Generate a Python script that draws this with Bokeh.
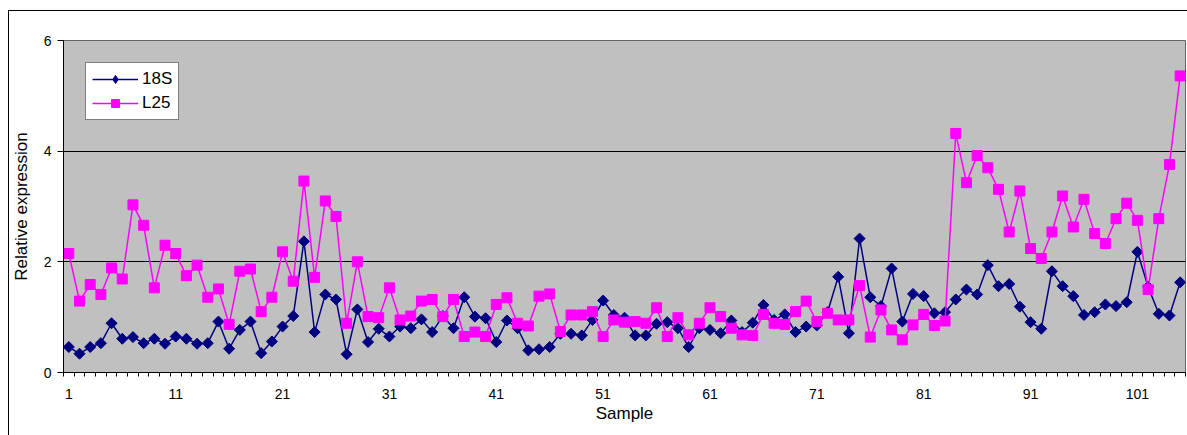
import numpy as np
from bokeh.plotting import figure
from bokeh.models import Range1d, FixedTicker, Legend, LegendItem, InlineStyleSheet
from bokeh.embed import file_html
from bokeh.resources import INLINE

samples = list(range(1, 106))
s18 = [0.46, 0.34, 0.46, 0.53, 0.89, 0.61, 0.64, 0.53, 0.61, 0.52,
       0.65, 0.61, 0.52, 0.53, 0.92, 0.43, 0.77, 0.92, 0.35, 0.56,
       0.83, 1.02, 2.37, 0.73, 1.41, 1.32, 0.33, 1.14, 0.55, 0.79,
       0.65, 0.83, 0.80, 0.96, 0.73, 1.02, 0.80, 1.36, 1.01, 0.98,
       0.55, 0.94, 0.80, 0.40, 0.42, 0.46, 0.70, 0.70, 0.67, 0.95,
       1.30, 1.04, 0.99, 0.67, 0.67, 0.88, 0.91, 0.80, 0.46, 0.80,
       0.77, 0.71, 0.94, 0.73, 0.90, 1.22, 0.95, 1.05, 0.73, 0.83,
       0.85, 1.09, 1.73, 0.71, 2.42, 1.36, 1.20, 1.88, 0.92, 1.42,
       1.38, 1.07, 1.09, 1.32, 1.50, 1.41, 1.94, 1.56, 1.60, 1.19,
       0.91, 0.79, 1.83, 1.56, 1.38, 1.04, 1.09, 1.23, 1.20, 1.27,
       2.18, 1.55, 1.06, 1.03, 1.63]
l25 = [2.15, 1.29, 1.59, 1.41, 1.89, 1.69, 3.03, 2.66, 1.53, 2.30,
       2.15, 1.75, 1.94, 1.36, 1.51, 0.87, 1.83, 1.87, 1.10, 1.36,
       2.18, 1.65, 3.46, 1.72, 3.10, 2.82, 0.89, 2.00, 1.01, 0.99,
       1.53, 0.95, 1.02, 1.29, 1.32, 1.01, 1.32, 0.65, 0.73, 0.65,
       1.23, 1.35, 0.89, 0.84, 1.38, 1.42, 0.74, 1.04, 1.04, 1.10,
       0.65, 0.95, 0.91, 0.92, 0.89, 1.17, 0.65, 0.99, 0.68, 0.89,
       1.17, 1.01, 0.80, 0.68, 0.67, 1.05, 0.89, 0.87, 1.10, 1.29,
       0.92, 1.07, 0.95, 0.95, 1.57, 0.64, 1.13, 0.77, 0.59, 0.86,
       1.05, 0.85, 0.93, 4.32, 3.43, 3.92, 3.70, 3.31, 2.54, 3.28,
       2.24, 2.06, 2.54, 3.19, 2.63, 3.13, 2.51, 2.33, 2.78, 3.06,
       2.75, 1.50, 2.78, 3.76, 5.36]
x_tick_labels = [1, 11, 21, 31, 41, 51, 61, 71, 81, 91, 101]
y_ticks = [0, 2, 4, 6]
grid_ticks = [2, 4]

FONT = "Liberation Sans"

border_css = InlineStyleSheet(css="""
:host { position: relative; }
:host::after {
  content: '';
  position: absolute;
  left: 8px; top: 10px; right: 0px; bottom: 0px;
  border-left: 1px solid #000;
  border-top: 1px solid #000;
  pointer-events: none;
  z-index: 10;
}
""")

p = figure(width=1187, height=435, output_backend="svg", toolbar_location=None,
           x_range=Range1d(0.5, len(samples) + 0.5), y_range=Range1d(0, 6),
           min_border_left=63, min_border_right=2, min_border_top=40,
           min_border_bottom=63, stylesheets=[border_css])

p.background_fill_color = "#C0C0C0"
p.border_fill_color = "white"
p.outline_line_color = "#666666"
p.outline_line_width = 1

# Grid
p.xgrid.grid_line_color = None
p.ygrid.ticker = FixedTicker(ticks=grid_ticks)
p.ygrid.grid_line_color = "#000000"
p.ygrid.grid_line_width = 1

# X axis: labels every 10 samples, tick marks between categories
xa = p.xaxis[0]
xa.ticker = FixedTicker(ticks=x_tick_labels,
                        minor_ticks=[i + 0.5 for i in range(0, len(samples) + 1)])
xa.major_tick_line_color = None
xa.major_tick_out = 4
xa.major_tick_in = 0
xa.minor_tick_line_color = "#000000"
xa.minor_tick_out = 4
xa.minor_tick_in = 0
xa.major_label_standoff = 12
xa.major_label_text_font = FONT
xa.major_label_text_font_size = "14px"
xa.major_label_text_color = "black"
xa.axis_line_color = "#000000"
xa.axis_label = "Sample"
xa.axis_label_text_font = FONT
xa.axis_label_text_font_size = "17px"
xa.axis_label_text_font_style = "normal"
xa.axis_label_text_color = "black"
xa.axis_label_standoff = 2

ya = p.yaxis[0]
ya.ticker = FixedTicker(ticks=y_ticks)
ya.minor_tick_line_color = None
ya.major_tick_out = 6
ya.major_tick_in = 0
ya.major_tick_line_color = "#000000"
ya.major_label_standoff = 6
ya.major_label_text_font = FONT
ya.major_label_text_font_size = "14px"
ya.major_label_text_color = "black"
ya.axis_line_color = "#000000"
ya.axis_label = "Relative expression"
ya.axis_label_text_font = FONT
ya.axis_label_text_font_size = "17px"
ya.axis_label_text_font_style = "normal"
ya.axis_label_text_color = "black"
ya.axis_label_standoff = 10

# Series
ln1 = p.line(samples, s18, line_color="#000080", line_width=1.5)
mk1 = p.scatter(samples, s18, marker="square", angle=np.pi / 4, size=7.8,
                fill_color="#000080", line_color="#000080")
# legend-only diamond glyph (hidden in the plot area)
lg1 = p.scatter(samples, s18, marker="diamond", size=12,
                fill_color="#000080", line_color="#000080", visible=False)
ln2 = p.line(samples, l25, line_color="#FF00FF", line_width=1.5)
mk2 = p.scatter(samples, l25, marker="square", size=10,
                fill_color="#FF00FF", line_color="#FF00FF")

legend = Legend(items=[LegendItem(label="18S", renderers=[ln1, lg1]),
                       LegendItem(label="L25", renderers=[ln2, mk2])],
                location="top_left")
legend.margin = 22
legend.padding = 6
legend.spacing = 4
legend.glyph_width = 46
legend.glyph_height = 20
legend.label_standoff = 4
legend.label_text_font = FONT
legend.label_text_font_size = "17px"
legend.label_text_color = "black"
legend.border_line_color = "black"
legend.border_line_width = 1
legend.background_fill_color = "white"
legend.background_fill_alpha = 1
legend.inactive_fill_alpha = 0
legend.click_policy = "none"
p.add_layout(legend)

open("out.html", "w").write(file_html(p, INLINE))
